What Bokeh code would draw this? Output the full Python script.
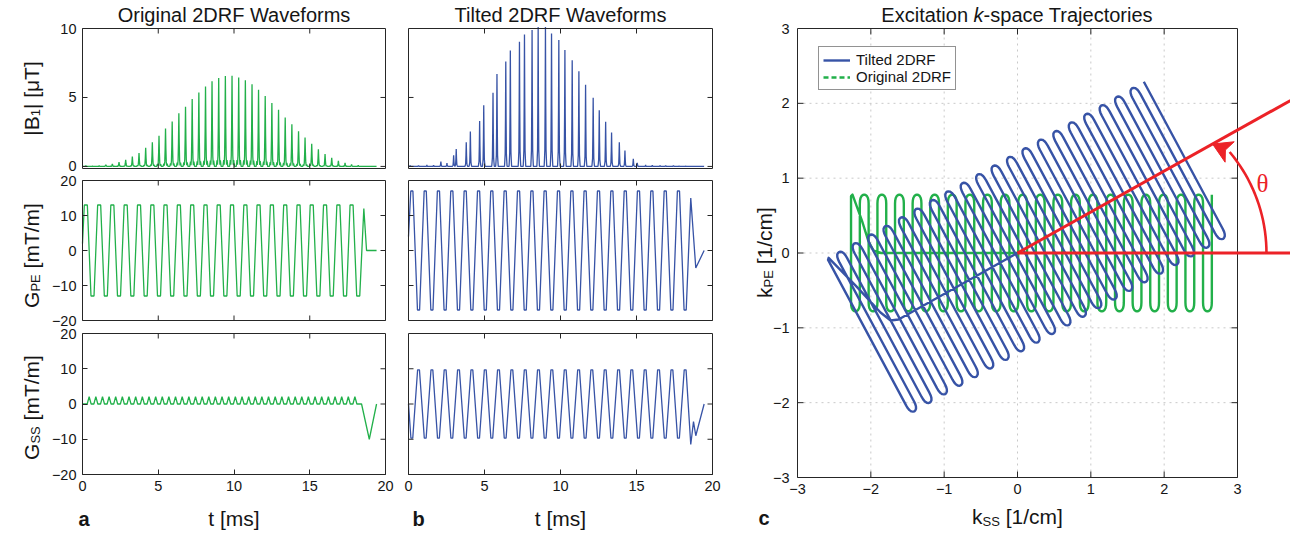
import math
from bokeh.plotting import figure
from bokeh.models import Label, Legend, LegendItem, LinearAxis, FixedTicker, Range1d
from bokeh.embed import file_html
from bokeh.resources import INLINE

# ---------------- data ----------------
# centre times (ms) of the 42 gradient lobes / RF sub-pulses
lobe_t = [0.22, 0.66, 1.10, 1.54, 1.97, 2.41, 2.85, 3.29, 3.73, 4.17,
          4.61, 5.05, 5.48, 5.92, 6.36, 6.80, 7.24, 7.68, 8.12, 8.55,
          8.99, 9.43, 9.87, 10.31, 10.75, 11.19, 11.62, 12.06, 12.50, 12.94,
          13.38, 13.82, 14.26, 14.69, 15.13, 15.57, 16.01, 16.45, 16.89, 17.33,
          17.76, 18.20]

# |B1| sub-pulse peaks (uT), original 2DRF
rf_orig_amp = [0.05, 0.02, 0.04, 0.12, 0.19, 0.31, 0.48, 0.72, 0.98, 1.36,
               1.75, 2.22, 2.75, 3.25, 3.85, 4.33, 4.88, 5.36, 5.79, 6.17,
               6.41, 6.56, 6.58, 6.45, 6.25, 5.95, 5.55, 5.10, 4.60, 4.10,
               3.55, 3.05, 2.55, 2.10, 1.65, 1.25, 0.90, 0.62, 0.40, 0.25,
               0.15, 0.08]

# |B1| sub-pulse times (ms) and peaks (uT), tilted 2DRF
rf_tilt_t = [0.11, 0.66, 1.21, 1.65, 2.13, 2.53, 2.97, 3.14, 3.80, 4.07,
             4.68, 4.95, 5.56, 5.82, 6.40, 6.70, 7.30, 7.63, 8.13, 8.53,
             9.01, 9.41, 9.89, 10.29, 10.77, 11.21, 11.65, 12.15, 12.55, 12.97,
             13.36, 13.87, 14.24, 14.79, 15.05, 15.60, 16.04, 16.55, 16.92, 17.43,
             17.80, 18.24]
rf_tilt_amp = [0.05, 0.05, 0.10, 0.08, 0.35, 0.25, 0.80, 1.27, 1.75, 2.54,
               3.30, 4.43, 5.34, 6.70, 7.60, 8.40, 9.04, 9.57, 9.90, 10.10,
               10.10, 9.64, 9.16, 8.44, 7.70, 6.90, 5.93, 4.98, 4.07, 3.23,
               2.46, 1.75, 1.15, 0.55, 0.26, 0.10, 0.08, 0.06, 0.05, 0.05,
               0.03, 0.02]

# lobe plateau amplitudes (mT/m)
pe_orig_amp = [13.0, -13.0, 13.0, -13.0, 13.0, -13.0, 13.0, -13.0, 13.0, -13.0,
               13.0, -13.0, 13.0, -13.0, 13.0, -13.0, 13.0, -13.0, 13.0, -13.0,
               13.0, -13.0, 13.0, -13.0, 13.0, -13.0, 13.0, -13.0, 13.0, -13.0,
               13.0, -13.0, 13.0, -13.0, 13.0, -13.0, 13.0, -13.0, 13.0, -13.0,
               13.0, -13.0]
pe_tilt_amp = [17.0, -17.0, 17.0, -17.0, 17.0, -17.0, 17.0, -17.0, 17.0, -17.0,
               17.0, -17.0, 17.0, -17.0, 17.0, -17.0, 17.0, -17.0, 17.0, -17.0,
               17.0, -17.0, 17.0, -17.0, 17.0, -17.0, 17.0, -17.0, 17.0, -17.0,
               17.0, -17.0, 17.0, -17.0, 17.0, -17.0, 17.0, -17.0, 17.0, -17.0,
               17.0, -17.0]
ss_tilt_amp = [-9.7, 9.7, -9.7, 9.7, -9.7, 9.7, -9.7, 9.7, -9.7, 9.7,
               -9.7, 9.7, -9.7, 9.7, -9.7, 9.7, -9.7, 9.7, -9.7, 9.7,
               -9.7, 9.7, -9.7, 9.7, -9.7, 9.7, -9.7, 9.7, -9.7, 9.7,
               -9.7, 9.7, -9.7, 9.7, -9.7, 9.7, -9.7, 9.7, -9.7, 9.7,
               -9.7, 9.7]
# Gss blips of the original pulse (one between consecutive lobes)
ss_orig_blip_amp = [2.1, 2.1, 2.1, 2.1, 2.1, 2.1, 2.1, 2.1, 2.1, 2.1,
                    2.1, 2.1, 2.1, 2.1, 2.1, 2.1, 2.1, 2.1, 2.1, 2.1,
                    2.1, 2.1, 2.1, 2.1, 2.1, 2.1, 2.1, 2.1, 2.1, 2.1,
                    2.1, 2.1, 2.1, 2.1, 2.1, 2.1, 2.1, 2.1, 2.1, 2.1,
                    2.1]

# waveform start / end pieces (ms, mT/m)
pe_orig_head_t, pe_orig_head_g = [0.0], [2.0]
pe_orig_tail_t, pe_orig_tail_g = [18.57, 18.75, 19.41], [12.0, 0.0, 0.0]
ss_orig_tail_t, ss_orig_tail_g = [18.42, 18.93, 19.41], [0.0, -10.0, 0.0]
pe_tilt_head_t, pe_tilt_head_g = [0.0], [4.0]
pe_tilt_tail_t, pe_tilt_tail_g = [18.57, 18.90, 19.45], [15.0, -5.0, 0.0]
ss_tilt_head_t, ss_tilt_head_g = [0.0], [0.0]
ss_tilt_tail_t, ss_tilt_tail_g = [18.57, 18.75, 18.90, 19.45], [-11.5, -5.0, -9.0, 0.0]
rf_orig_end_t = 19.41
rf_tilt_end_t = 19.45

# k-space: positions of the 42 EPI lines (1/cm)
orig_line_kss = [2.65, 2.53, 2.41, 2.29, 2.17, 2.05, 1.93, 1.81, 1.69, 1.57,
                 1.45, 1.33, 1.21, 1.09, 0.97, 0.85, 0.73, 0.61, 0.49, 0.37,
                 0.25, 0.13, 0.01, -0.11, -0.23, -0.35, -0.47, -0.59, -0.71, -0.83,
                 -0.95, -1.07, -1.19, -1.31, -1.43, -1.55, -1.67, -1.79, -1.91, -2.03,
                 -2.15, -2.27]
orig_half_line, orig_turn_depth, orig_start_kpe = 0.66, 0.12, 0.78
orig_tail_kss = [-2.27, -2.25, -2.12, -2.03, -1.96, -1.86, 0.0]
orig_tail_kpe = [0.76, 0.78, 0.43, 0.15, 0.03, 0.0, 0.0]

# tilted trajectory, in the frame rotated by theta (along / across the tilt axis)
theta_deg = 28.7
tilt_line_s = [2.61, 2.49, 2.37, 2.25, 2.13, 2.01, 1.89, 1.77, 1.65, 1.53,
               1.41, 1.29, 1.17, 1.05, 0.93, 0.81, 0.69, 0.57, 0.45, 0.33,
               0.21, 0.09, -0.03, -0.15, -0.27, -0.39, -0.51, -0.63, -0.75, -0.87,
               -0.99, -1.11, -1.23, -1.35, -1.47, -1.59, -1.71, -1.83, -1.95, -2.07,
               -2.19, -2.31]
tilt_half_line, tilt_turn_depth, tilt_start_v = 1.06, 0.12, 1.18
tilt_tail_s = [-2.31, -2.29, -2.14, -2.02, -1.95, -1.85, 0.0]
tilt_tail_v = [1.16, 1.18, 0.66, 0.20, 0.04, 0.0, 0.0]

ticks_t = [0, 5, 10, 15, 20]
ticks_b1 = [0, 5, 10]
ticks_g = [-20, -10, 0, 10, 20]
ticks_k = [-3, -2, -1, 0, 1, 2, 3]

# ---------------- shape templates (style) ----------------
sub_dt_wide = [-0.16, -0.11, -0.08, -0.05, -0.025, 0.0, 0.025, 0.05, 0.08, 0.11, 0.16]
sub_rel_wide = [0.0, 0.07, 0.02, 0.12, 0.45, 1.0, 0.45, 0.12, 0.02, 0.07, 0.0]
sub_dt_narrow = [-0.085, -0.06, -0.04, -0.02, 0.0, 0.02, 0.04, 0.06, 0.085]
sub_rel_narrow = [0.0, 0.06, 0.12, 0.45, 1.0, 0.45, 0.12, 0.06, 0.0]
turn_u = [0.0, 0.02, 0.08, 0.2, 0.35, 0.5, 0.65, 0.8, 0.92, 0.98, 1.0]
turn_w = [0.0, 0.35, 0.62, 0.85, 0.96, 1.0, 0.96, 0.85, 0.62, 0.35, 0.0]

GREEN = "#22b04a"
BLUE = "#3753a6"
RED = "#ec2227"
FONT = "Liberation Sans"
TICK_FS = "14.5px"
EDGE = "#262626"
TXT = "#151515"
W, H = 1290, 533


def grad_wave(head_t, head_g, centers, amps, half_flat, tail_t, tail_g):
    t, g = list(head_t), list(head_g)
    for c, a in zip(centers, amps):
        t += [c - half_flat, c + half_flat]
        g += [a, a]
    return t + list(tail_t), g + list(tail_g)


def blip_wave(centers, blip_amp, half_base, tail_t, tail_g):
    t, g = [0.0], [0.0]
    for k in range(len(centers) - 1):
        b = 0.5 * (centers[k] + centers[k + 1])
        t += [b - half_base, b, b + half_base]
        g += [0.0, blip_amp[k], 0.0]
    return t + list(tail_t), g + list(tail_g)


def rf_wave(times, amps, dts, rels, t_end):
    t, g = [0.0], [0.0]
    for c, a in zip(times, amps):
        for d, r in zip(dts, rels):
            t.append(c + d)
            g.append(a * r)
    t.append(t_end)
    g.append(0.0)
    return t, g


def epi_path(line_pos, half_line, depth, start_v, tail_a, tail_b):
    a_pts, b_pts = [], []
    n = len(line_pos)
    for j, s in enumerate(line_pos):
        sign = 1 if j % 2 == 0 else -1
        v_from = start_v if j == 0 else sign * half_line
        v_to = -sign * half_line
        a_pts += [s, s]
        b_pts += [v_from, v_to]
        if j < n - 1:
            s_next = line_pos[j + 1]
            for u, w in zip(turn_u, turn_w):
                a_pts.append(s + u * (s_next - s))
                b_pts.append(v_to - sign * depth * w)
    return a_pts + list(tail_a), b_pts + list(tail_b)


# Arial / Liberation Sans advance widths (em)
EMW = {'|': 0.26, 'B': 0.667, '1': 0.556, ' ': 0.278, '[': 0.278, ']': 0.278,
       'μ': 0.576, 'T': 0.611, 'G': 0.778, 'P': 0.667, 'E': 0.667, 'S': 0.667,
       'm': 0.833, '/': 0.278, 'k': 0.5, 'c': 0.5, 't': 0.278, 's': 0.5,
       'x': 0.5, 'i': 0.222, 'a': 0.556, 'o': 0.556, 'n': 0.556, '-': 0.333,
       'p': 0.556, 'e': 0.556, 'r': 0.333, 'j': 0.222}


def tw(s, size):
    return sum(EMW.get(ch, 0.556) for ch in s) * size


# ---------------- one canvas, one scale pair per panel ----------------
p = figure(width=W, height=H, x_range=Range1d(0, W), y_range=Range1d(0, H),
           min_border=0, x_axis_location=None, y_axis_location=None,
           output_backend="svg", toolbar_location=None)
p.outline_line_color = None
p.grid.visible = False
p.background_fill_color = "white"
p.border_fill_color = "white"

# panel boxes on the page (pixels from the top-left)
BOX_X = {"a": (82, 385), "b": (408, 712), "c": (797, 1237)}
BOX_Y = {"r1": (168, 28), "r2": (320, 180), "r3": (474, 333), "rc": (477, 28)}
DATA_X = {"a": (0, 20), "b": (0, 20), "c": (-3, 3)}
DATA_Y = {"r1": (-0.15, 10), "r2": (-20, 20), "r3": (-20, 20), "rc": (-3, 3)}


def full_range(d, px0, px1, total):
    k = (d[1] - d[0]) / (px1 - px0)
    return Range1d(d[0] - px0 * k, d[1] + (total - px1) * k)


for n, (l, r) in BOX_X.items():
    p.extra_x_ranges[n] = full_range(DATA_X[n], l, r, W)
for n, (b, t) in BOX_Y.items():
    p.extra_y_ranges[n] = full_range(DATA_Y[n], H - b, H - t, H)


def px_per_unit(xn, yn):
    bx, by = BOX_X[xn], BOX_Y[yn]
    dx, dy = DATA_X[xn], DATA_Y[yn]
    return (bx[1] - bx[0]) / (dx[1] - dx[0]), (by[0] - by[1]) / (dy[1] - dy[0])


def draw_box(xn, yn, xt, yt, sides, L=5):
    x0, x1 = DATA_X[xn]
    y0, y1 = DATA_Y[yn]
    p.line([x0, x1, x1, x0, x0], [y0, y0, y1, y1, y0], x_range_name=xn, y_range_name=yn,
           line_color=EDGE, line_width=1)
    kx, ky = px_per_unit(xn, yn)
    lx, ly = L / kx, L / ky
    sx0, sy0, sx1, sy1 = [], [], [], []
    ix = [x for x in xt if x0 < x < x1]
    iy = [y for y in yt if y0 <= y < y1]
    for x in ix:
        if "bottom" in sides:
            sx0.append(x); sy0.append(y0); sx1.append(x); sy1.append(y0 + ly)
        if "top" in sides:
            sx0.append(x); sy0.append(y1); sx1.append(x); sy1.append(y1 - ly)
    for y in iy:
        if "left" in sides:
            sx0.append(x0); sy0.append(y); sx1.append(x0 + lx); sy1.append(y)
        if "right" in sides:
            sx0.append(x1); sy0.append(y); sx1.append(x1 - lx); sy1.append(y)
    if sx0:
        p.segment(sx0, sy0, sx1, sy1, x_range_name=xn, y_range_name=yn,
                  line_color=EDGE, line_width=1)


def lab_axis(side, ticks, xn, yn, loc, overrides=None, L=5, standoff=6):
    ax = LinearAxis(ticker=FixedTicker(ticks=ticks, minor_ticks=[]),
                    x_range_name=xn, y_range_name=yn, fixed_location=loc,
                    axis_line_color=None,
                    major_tick_in=L, major_tick_out=0,
                    major_tick_line_color=EDGE if L else None,
                    major_tick_line_width=1, minor_tick_line_color=None,
                    major_label_standoff=standoff,
                    major_label_text_font_size=TICK_FS,
                    major_label_text_font=FONT,
                    major_label_text_color=TXT)
    if overrides:
        ax.major_label_overrides = overrides
    p.add_layout(ax, side)


def put(x, y, text, size, angle=0.0, align="left", baseline="alphabetic",
        color=TXT, font=FONT, style="normal"):
    p.add_layout(Label(x=x, y=y, text=text, angle=angle, text_align=align,
                       text_baseline=baseline, text_font_size=f"{size}px",
                       text_font=font, text_color=color, text_font_style=style))


def hparts(xc, y, parts, baseline="alphabetic"):
    total = sum(tw(t, s) for t, s, _, _ in parts)
    cur = xc - total / 2
    for t, s, sh, st in parts:
        lead = len(t) - len(t.lstrip(" "))
        put(cur + tw(" " * lead, s), y - sh, t.strip(" "), s, baseline=baseline, style=st)
        cur += tw(t, s)


def vparts(x, yc, parts):
    total = sum(tw(t, s) for t, s, _, _ in parts)
    cur = yc - total / 2
    for t, s, sh, st in parts:
        lead = len(t) - len(t.lstrip(" "))
        put(x + sh, cur + tw(" " * lead, s), t.strip(" "), s, angle=math.pi / 2, style=st)
        cur += tw(t, s)


YFS = 21
SUB = 13
N = "normal"
over_g = {-20: "\u221220", -10: "\u221210"}
over_k = {-3: "\u22123", -2: "\u22122", -1: "\u22121"}

# ---------------- waveforms ----------------
rf_o_t, rf_o_g = rf_wave(lobe_t, rf_orig_amp, sub_dt_wide, sub_rel_wide, rf_orig_end_t)
rf_b_t, rf_b_g = rf_wave(rf_tilt_t, rf_tilt_amp, sub_dt_narrow, sub_rel_narrow, rf_tilt_end_t)
pe_o_t, pe_o_g = grad_wave(pe_orig_head_t, pe_orig_head_g, lobe_t, pe_orig_amp, 0.10,
                           pe_orig_tail_t, pe_orig_tail_g)
ss_o_t, ss_o_g = blip_wave(lobe_t, ss_orig_blip_amp, 0.13, ss_orig_tail_t, ss_orig_tail_g)
pe_b_t, pe_b_g = grad_wave(pe_tilt_head_t, pe_tilt_head_g, lobe_t, pe_tilt_amp, 0.07,
                           pe_tilt_tail_t, pe_tilt_tail_g)
ss_b_t, ss_b_g = grad_wave(ss_tilt_head_t, ss_tilt_head_g, lobe_t, ss_tilt_amp, 0.06,
                           ss_tilt_tail_t, ss_tilt_tail_g)

LW = 1.3
for xn, yn, tt, gg, col in [("a", "r1", rf_o_t, rf_o_g, GREEN),
                            ("a", "r2", pe_o_t, pe_o_g, GREEN),
                            ("a", "r3", ss_o_t, ss_o_g, GREEN),
                            ("b", "r1", rf_b_t, rf_b_g, BLUE),
                            ("b", "r2", pe_b_t, pe_b_g, BLUE),
                            ("b", "r3", ss_b_t, ss_b_g, BLUE)]:
    p.line(tt, gg, x_range_name=xn, y_range_name=yn, line_color=col, line_width=LW)

# boxes, ticks and labelled axes of the waveform panels
draw_box("a", "r1", ticks_t, ticks_b1, ["top", "right", "bottom"])
draw_box("a", "r2", ticks_t, ticks_g, ["top", "right", "bottom"])
draw_box("a", "r3", ticks_t, ticks_g, ["top", "right"])
draw_box("b", "r1", ticks_t, ticks_b1, ["top", "right", "bottom", "left"])
draw_box("b", "r2", ticks_t, ticks_g, ["top", "right", "bottom", "left"])
draw_box("b", "r3", ticks_t, ticks_g, ["top", "right", "left"])
lab_axis("left", ticks_b1, "a", "r1", 0)
lab_axis("left", ticks_g, "a", "r2", 0, over_g)
lab_axis("left", ticks_g, "a", "r3", 0, over_g)
lab_axis("below", ticks_t, "a", "r3", -20)
lab_axis("below", ticks_t, "b", "r3", -20)

# ---------------- k-space panel ----------------
gx0, gy0, gx1, gy1 = [], [], [], []
for v in ticks_k[1:-1]:
    gx0 += [v, ticks_k[0]]; gy0 += [ticks_k[0], v]
    gx1 += [v, ticks_k[-1]]; gy1 += [ticks_k[-1], v]
p.segment(gx0, gy0, gx1, gy1, x_range_name="c", y_range_name="rc",
          line_color="#c9c9c9", line_width=1, line_dash="2 4")

ko_x, ko_y = epi_path(orig_line_kss, orig_half_line, orig_turn_depth, orig_start_kpe,
                      orig_tail_kss, orig_tail_kpe)
ts, tv = epi_path(tilt_line_s, tilt_half_line, tilt_turn_depth, tilt_start_v,
                  tilt_tail_s, tilt_tail_v)
th = math.radians(theta_deg)
kb_x = [s * math.cos(th) - v * math.sin(th) for s, v in zip(ts, tv)]
kb_y = [s * math.sin(th) + v * math.cos(th) for s, v in zip(ts, tv)]
p.line(ko_x, ko_y, x_range_name="c", y_range_name="rc", line_color=GREEN,
       line_width=2.4, line_join="round")
p.line(kb_x, kb_y, x_range_name="c", y_range_name="rc", line_color=BLUE,
       line_width=2.4, line_join="round")

draw_box("c", "rc", ticks_k, ticks_k, ["top", "right", "bottom", "left"], L=6)
lab_axis("left", ticks_k, "c", "rc", -3, over_k, L=0, standoff=8)
lab_axis("below", ticks_k, "c", "rc", -3, over_k, L=0, standoff=6)

# legend
leg_b = p.line([-9, -8], [-9, -9], x_range_name="c", y_range_name="rc",
               line_color=BLUE, line_width=2.4)
leg_g = p.line([-9, -8], [-9, -9], x_range_name="c", y_range_name="rc",
               line_color=GREEN, line_width=2.4, line_dash="5 3")
legend = Legend(items=[LegendItem(label="Tilted 2DRF", renderers=[leg_b]),
                       LegendItem(label="Original 2DRF", renderers=[leg_g])],
                location=(818, H - 90), padding=4, spacing=0,
                glyph_width=27, glyph_height=16, label_height=16,
                label_standoff=6, label_text_font=FONT, label_text_font_size="15px",
                label_text_color=TXT,
                border_line_color=EDGE, border_line_width=1,
                background_fill_color="white", background_fill_alpha=1.0)
p.add_layout(legend)

# red angle annotation (theta)
x_end = p.extra_x_ranges["c"].end
p.line([0.0, x_end], [0.0, 0.0], x_range_name="c", y_range_name="rc",
       line_color=RED, line_width=3)
p.line([0.0, x_end], [0.0, x_end * math.tan(th)], x_range_name="c", y_range_name="rc",
       line_color=RED, line_width=3)
arc_cx, arc_rx, arc_ry = 1.25, 2.145, 2.10
arc_deg = list(range(0, 41, 2))
arc_x = [arc_cx + arc_rx * math.cos(math.radians(a)) for a in arc_deg]
arc_y = [arc_ry * math.sin(math.radians(a)) for a in arc_deg]
p.line(arc_x, arc_y, x_range_name="c", y_range_name="rc", line_color=RED, line_width=2.6)
tip_x = 2.66
tip_y = tip_x * math.tan(th)
bx, by = arc_x[-1], arc_y[-1]
dx, dy = tip_x - bx, tip_y - by
dl = math.hypot(dx, dy)
qx, qy = -dy / dl * 0.15, dx / dl * 0.15
p.patch([tip_x, bx + qx, bx + 0.25 * dx, bx - qx, tip_x],
        [tip_y, by + qy, by + 0.25 * dy, by - qy, tip_y],
        x_range_name="c", y_range_name="rc", fill_color=RED, line_color=RED, line_width=1)

# ---------------- texts (page pixels, y measured upward) ----------------
put(233.5, H - 14, "Original 2DRF Waveforms", 20, align="center", baseline="middle")
put(560, H - 14, "Tilted 2DRF Waveforms", 20, align="center", baseline="middle")
hparts(1017, H - 14, [("Excitation ", 20, 0, N), ("k", 20, 0, "italic"),
                      ("-space Trajectories", 20, 0, N)], baseline="middle")

vparts(31, H - 98, [("|B", YFS, 0, N), ("1", SUB, 4, N), ("| [μT]", YFS, 0, N)])
vparts(31, H - 255, [("G", YFS, 0, N), ("PE", SUB, 4, N), (" [mT/m]", YFS, 0, N)])
vparts(31, H - 407, [("G", YFS, 0, N), ("SS", SUB, 4, N), (" [mT/m]", YFS, 0, N)])
vparts(764, H - 252, [("k", YFS, 0, N), ("PE", SUB, 4, N), (" [1/cm]", YFS, 0, N)])

hparts(233.5, H - 518, [("t [ms]", YFS, 0, N)])
hparts(560, H - 518, [("t [ms]", YFS, 0, N)])
hparts(1017, H - 516, [("k", YFS, 0, N), ("SS", SUB, 5, N), (" [1/cm]", YFS, 0, N)])
put(78, H - 518, "a", 20, style="bold")
put(412, H - 518, "b", 20, style="bold")
put(758, H - 517, "c", 20, style="bold")
put(1262, H - 183, "θ", 25, align="center", baseline="middle", color=RED,
    font="Liberation Serif")

with open("out.html", "w") as f:
    f.write(file_html(p, INLINE))
